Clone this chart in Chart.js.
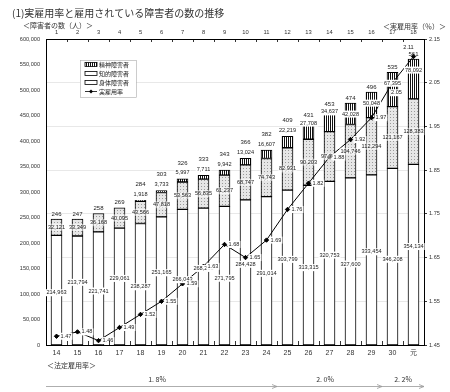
<!DOCTYPE html>
<html><head><meta charset="utf-8">
<script src="https://cdn.jsdelivr.net/npm/chart.js@4"></script>
<style>html,body{margin:0;padding:0;background:#fff}</style>
</head><body>
<canvas id="c" width="450" height="392"></canvas>
<script>
const categories = ['14','15','16','17','18','19','20','21','22','23','24','25','26','27','28','29','30','元'];
const topLabels = ['1','2','3','4','5','6','7','8','9','10','11','12','13','14','15','16','17','18'];
const shintai = [214963,213794,221741,229061,238287,251165,266043,268266,271795,284428,291014,303799,313315,320753,327600,333454,346208,354134];
const chiteki = [32121,33349,36168,40095,43566,47818,53563,56835,61237,68747,74743,82931,90203,97744,104746,112294,121167,128383];
const seishin = [null,null,null,null,1918,3733,5997,7711,9942,13024,16607,22219,27708,34637,42028,50048,67395,78092];
const totals = [246,247,258,269,284,303,326,333,343,366,382,409,431,453,474,496,535,561];
const rate = [1.47,1.48,1.46,1.49,1.52,1.55,1.59,1.63,1.68,1.65,1.69,1.76,1.82,1.88,1.92,1.97,2.05,2.11];
const rateTicks = [1.45,1.55,1.65,1.75,1.85,1.95,2.05,2.15];
const legalRates = ['1. 8%','2. 0%','2. 2%'];
const legalStart = [0,11,16];
const legalEnd = [10,15,17];
const seriesNames = ['身体障害者','知的障害者','精神障害者','実雇用率'];

function makePattern(kind){
  const c = document.createElement('canvas');
  const x = c.getContext('2d');
  if(kind==='dots'){
    c.width=3;c.height=3;
    x.fillStyle='#e6e6e6';x.fillRect(0,0,3,3);
    x.fillStyle='#9a9a9a';x.fillRect(0,0,1,1);
  } else {
    c.width=2;c.height=2;
    x.fillStyle='#ffffff';x.fillRect(0,0,2,2);
    x.fillStyle='#111';x.fillRect(0,0,1,2);
  }
  return x.createPattern(c,'repeat');
}
const ctx0 = document.getElementById('c').getContext('2d');
const dotPat = makePattern('dots');
const stripePat = makePattern('stripes');
const fmt = v => v.toLocaleString('en-US');
const NUMFONT = "'Liberation Sans', Arial, sans-serif";
const JPFONT = "'Noto Sans CJK JP', sans-serif";

function txt(ctx, text, x, y, align, bg, size){
  ctx.font = (size||5.6)+'px '+NUMFONT;
  const w = ctx.measureText(text).width;
  let lx = align==='left'? x : (align==='right'? x-w : x-w/2);
  if(bg){ctx.fillStyle=bg;ctx.fillRect(lx-1,y-3.5,w+2,7);}
  ctx.fillStyle='#222';ctx.textAlign='left';ctx.textBaseline='middle';
  ctx.fillText(text,lx,y);
}

const decor = {
  id:'decor',
  afterDatasetsDraw(chart){
    const ctx=chart.ctx, xs=chart.scales.x, ys=chart.scales.y, y1=chart.scales.y1;
    ctx.save();
    for(let i=0;i<categories.length;i++){
      const cx = xs.getPixelForValue(i);
      // 身体 (labels staggered so neighbours do not collide)
      const stagger = (i%2) ? 16000 : -5000;
      txt(ctx, fmt(shintai[i]), cx, ys.getPixelForValue(shintai[i]/2+stagger), 'center', '#fff');
      // 知的
      txt(ctx, fmt(chiteki[i]), cx, ys.getPixelForValue(shintai[i]+chiteki[i]/2), 'center', 'rgba(255,255,255,0.55)');
      const base = shintai[i]+chiteki[i];
      if(seishin[i]){
        const top = ys.getPixelForValue(base+seishin[i]);
        const h = ys.getPixelForValue(base)-top;
        let ly, ty;
        if(h<12){ly=top-6;ty=top-16;}
        else if(h<20){ly=top-2;ty=top-10;}
        else {ly=top+11;ty=top-5;}
        txt(ctx, fmt(seishin[i]), cx, ly, 'center', '#fff');
        txt(ctx, String(totals[i]), cx, ty, 'center', null, 6);
      } else {
        const top = ys.getPixelForValue(base);
        txt(ctx, String(totals[i]), cx, top-5, 'center', null, 6);
      }
    }
    // rate labels
    for(let i=0;i<rate.length;i++){
      const px = xs.getPixelForValue(i), py = y1.getPixelForValue(rate[i]);
      if(i===rate.length-1) txt(ctx, rate[i].toFixed(2), px-5, py-9, 'center', '#fff');
      else if(i===rate.length-2) txt(ctx, rate[i].toFixed(2), px+4, py+10, 'center', '#fff');
      else txt(ctx, rate[i].toFixed(2), px+4, py, 'left', '#fff');
    }
    ctx.restore();
  },
  afterDraw(chart){
    const ctx=chart.ctx, xs=chart.scales.x, ca=chart.chartArea;
    ctx.save();
    ctx.fillStyle='#333';ctx.textBaseline='middle';ctx.textAlign='left';
    ctx.font='10px '+JPFONT;
    ctx.fillText('(1)実雇用率と雇用されている障害者の数の推移',12,13);
    ctx.font='7px '+JPFONT;
    ctx.fillText('＜障害者の数（人）＞',23,25);
    ctx.textAlign='right';
    ctx.fillText('＜実雇用率（％）＞',446,26);
    ctx.textAlign='left';
    ctx.fillText('＜法定雇用率＞',47,365);
    // inward ticks on top and bottom axes
    ctx.strokeStyle='#000';ctx.lineWidth=0.8;
    const step = xs.getPixelForValue(1)-xs.getPixelForValue(0);
    for(let i=1;i<categories.length;i++){
      const bx = Math.round(xs.getPixelForValue(i)-step/2)+0.5;
      ctx.beginPath();ctx.moveTo(bx,ca.bottom);ctx.lineTo(bx,ca.bottom-4);ctx.stroke();
      ctx.beginPath();ctx.moveTo(bx,ca.top);ctx.lineTo(bx,ca.top+3);ctx.stroke();
    }
    // legal rate arrows
    ctx.strokeStyle='#999';ctx.lineWidth=0.8;
    for(let k=0;k<legalRates.length;k++){
      const x0 = xs.getPixelForValue(legalStart[k])-step/2;
      const x1 = xs.getPixelForValue(legalEnd[k])+step/2;
      const yy = 386.5;
      ctx.beginPath();ctx.moveTo(x0,yy);ctx.lineTo(x1,yy);ctx.stroke();
      ctx.beginPath();ctx.moveTo(x1-5,yy-2);ctx.lineTo(x1,yy);ctx.lineTo(x1-5,yy+2);ctx.stroke();
      ctx.fillStyle='#333';ctx.font='7px '+JPFONT;ctx.textAlign='center';
      const mx = k===0? 157 : (k===1? 325 : (x0+x1)/2);
      ctx.fillText(legalRates[k], mx, 379);
    }
    // legend
    const lx=80, ly=60;
    ctx.strokeStyle='#aaa';ctx.lineWidth=0.6;
    ctx.fillStyle='#fff';ctx.fillRect(lx,ly,56,37);ctx.strokeRect(lx+0.5,ly+0.5,56,37);
    const rows=[64.5,73.5,82.5,91.5];
    const names=[seriesNames[2],seriesNames[1],seriesNames[0],seriesNames[3]];
    for(let r=0;r<4;r++){
      const yy=rows[r];
      ctx.strokeStyle='#000';ctx.lineWidth=0.8;
      if(r===0){ctx.fillStyle=stripePat;ctx.fillRect(85,yy-2,12,4);ctx.strokeRect(85,yy-2,12,4);}
      else if(r<3){ctx.fillStyle='#fff';ctx.fillRect(85,yy-2,12,4);ctx.strokeRect(85,yy-2,12,4);}
      else {ctx.beginPath();ctx.moveTo(85,yy);ctx.lineTo(97,yy);ctx.stroke();
        ctx.fillStyle='#000';ctx.beginPath();ctx.moveTo(91,yy-2);ctx.lineTo(93,yy);ctx.lineTo(91,yy+2);ctx.lineTo(89,yy);ctx.fill();}
      ctx.fillStyle='#222';ctx.font='6px '+JPFONT;ctx.textAlign='left';ctx.textBaseline='middle';
      ctx.fillText(names[r],99,yy);
    }
    ctx.restore();
  }
};

Chart.defaults.font.family = NUMFONT;
Chart.defaults.color = '#222';

new Chart(ctx0, {
  type:'bar',
  data:{
    labels:categories,
    datasets:[
      {type:'line',label:seriesNames[3],data:rate,yAxisID:'y1',xAxisID:'x',borderColor:'#000',borderWidth:1,
       pointStyle:'rectRot',pointRadius:2.2,pointBackgroundColor:'#000',pointBorderColor:'#000',order:0,tension:0},
      {label:seriesNames[0],data:shintai,backgroundColor:'#fff',borderColor:'#000',borderWidth:1,borderSkipped:false,barThickness:11,stack:'s',order:1},
      {label:seriesNames[1],data:chiteki,backgroundColor:dotPat,borderColor:'#000',borderWidth:1,borderSkipped:false,barThickness:11,stack:'s',order:1},
      {label:seriesNames[2],data:seishin,backgroundColor:stripePat,borderColor:'#000',borderWidth:1,borderSkipped:false,barThickness:11,stack:'s',order:1}
    ]
  },
  options:{
    responsive:false,animation:false,devicePixelRatio:1,
    layout:{padding:0},
    plugins:{legend:{display:false},title:{display:false},tooltip:{enabled:false}},
    scales:{
      x:{stacked:true,position:'bottom',offset:true,grid:{display:false,drawTicks:false},border:{display:true,color:'#000',width:1},
         ticks:{font:{size:7},padding:4,color:'#333',maxRotation:0,autoSkip:false},
         afterFit(s){s.height=47;}},
      x2:{type:'category',labels:topLabels,position:'top',offset:true,grid:{display:false,drawTicks:false},border:{display:true,color:'#000',width:1},
         ticks:{font:{size:5.8},padding:3,color:'#333',maxRotation:0,autoSkip:false},
         afterFit(s){s.height=39;}},
      y:{stacked:true,position:'left',min:0,max:600000,grid:{display:false,drawTicks:false},border:{display:true,color:'#000',width:1},
         ticks:{stepSize:50000,font:{size:5.6},padding:6,color:'#333',callback:v=>fmt(v)},
         afterFit(s){s.width=46;}},
      y1:{position:'right',min:1.45,max:2.15,grid:{color:'#e2e2e2',lineWidth:0.8,drawTicks:true,tickLength:3,tickColor:'#000'},
         border:{display:true,color:'#000',width:1},
         ticks:{font:{size:5.6},padding:2,color:'#333',callback:v=>v.toFixed(2)},
         afterBuildTicks(s){s.ticks=rateTicks.map(v=>({value:v}));},
         afterFit(s){s.width=26;}}
    }
  },
  plugins:[decor]
});
</script>
</body></html>
